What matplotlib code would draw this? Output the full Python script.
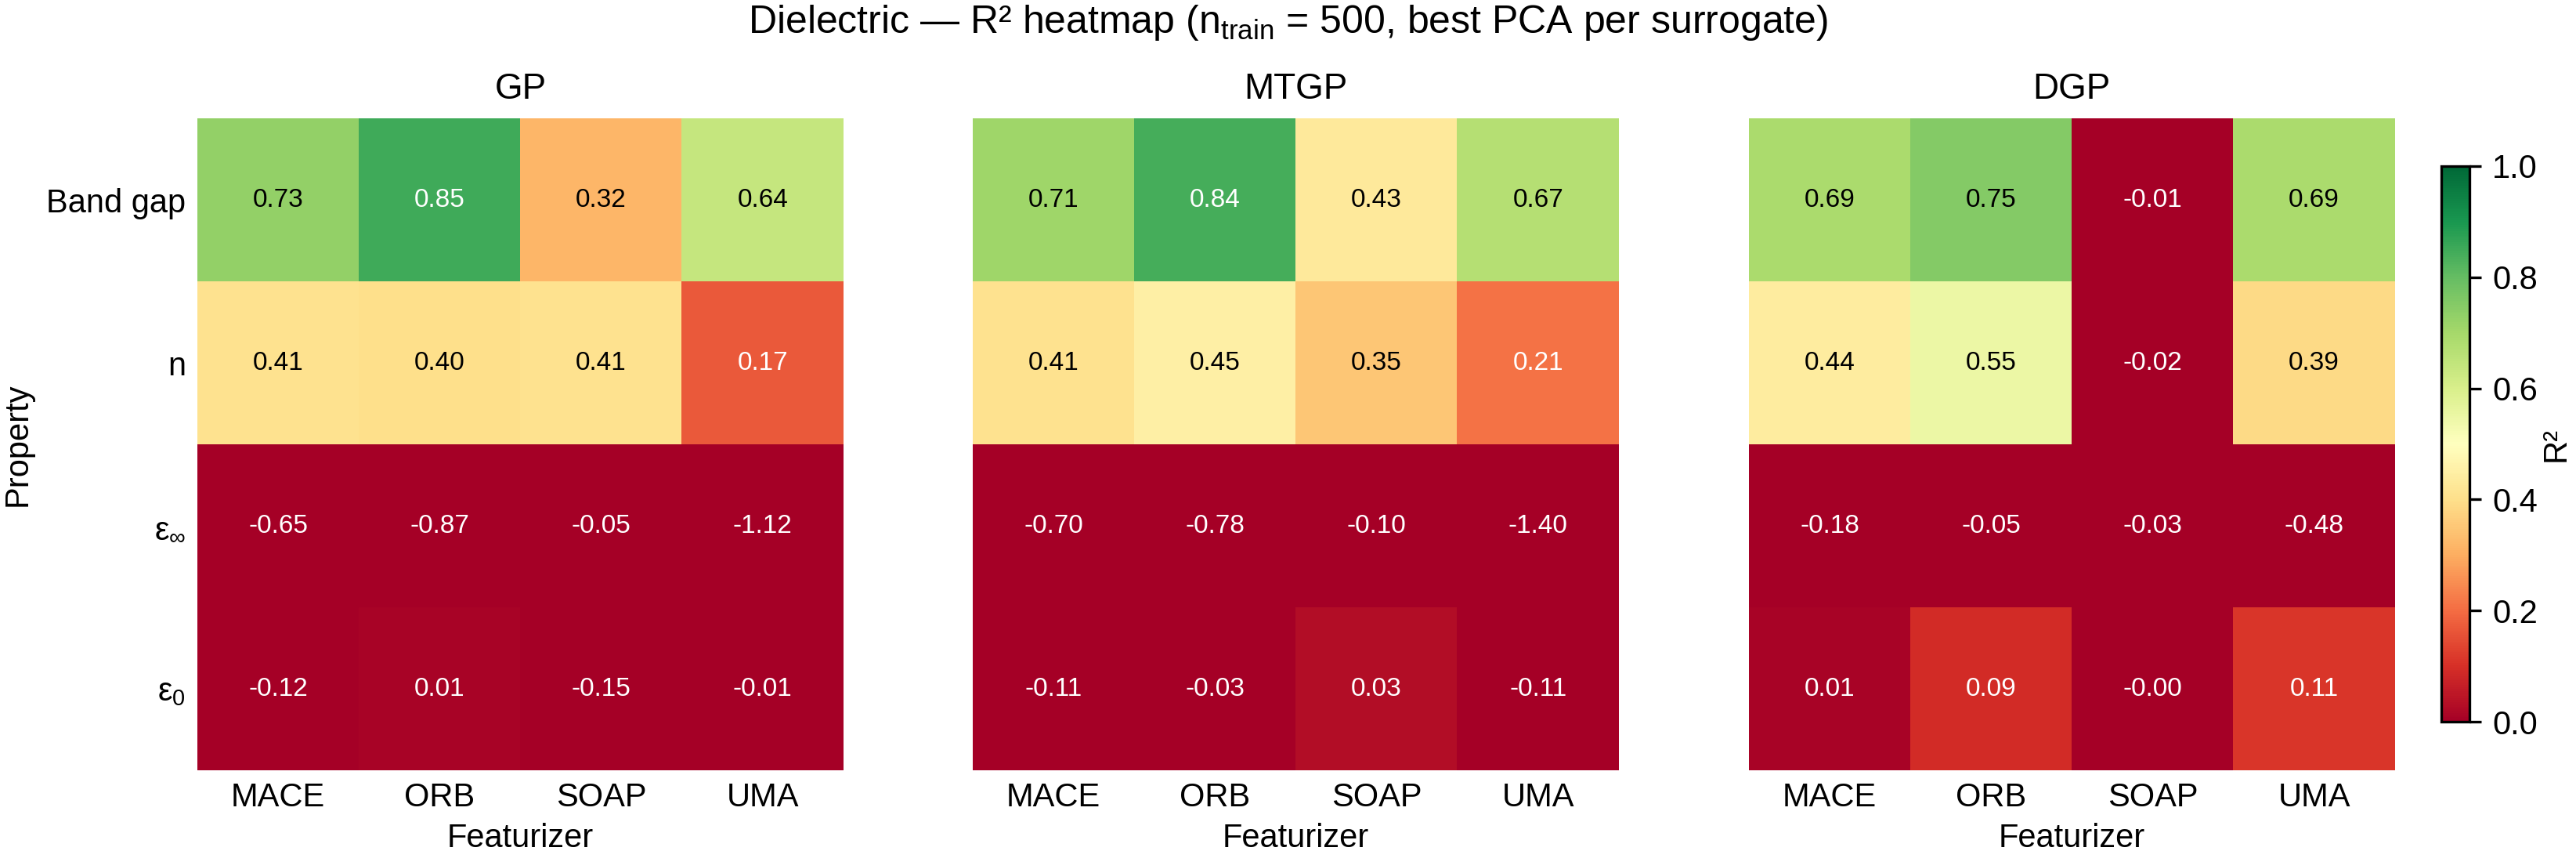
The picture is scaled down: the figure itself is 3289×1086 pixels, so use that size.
import matplotlib
matplotlib.use("Agg")
import matplotlib.pyplot as plt
import numpy as np

plt.rcParams['font.family'] = ['Liberation Sans', 'DejaVu Sans']
plt.rcParams['mathtext.fontset'] = 'custom'
plt.rcParams['mathtext.rm'] = 'Liberation Sans'
plt.rcParams['mathtext.it'] = 'Liberation Sans:italic'

# data
surrogates = ['GP', 'MTGP', 'DGP']
featurizers = ['MACE', 'ORB', 'SOAP', 'UMA']
properties = ['Band gap', 'n', r'$\mathregular{ε_{∞}}$', r'$\mathregular{ε_{0}}$']

r2_gp = [[0.73, 0.85, 0.32, 0.64],
         [0.41, 0.40, 0.41, 0.17],
         [-0.65, -0.87, -0.05, -1.12],
         [-0.12, 0.01, -0.15, -0.01]]
r2_mtgp = [[0.71, 0.84, 0.43, 0.67],
           [0.41, 0.45, 0.35, 0.21],
           [-0.70, -0.78, -0.10, -1.40],
           [-0.11, -0.03, 0.03, -0.11]]
r2_dgp = [[0.69, 0.75, -0.01, 0.69],
          [0.44, 0.55, -0.02, 0.39],
          [-0.18, -0.05, -0.03, -0.48],
          [0.01, 0.09, -0.0, 0.11]]

fig = plt.figure(figsize=(3289 / 300, 1086 / 300), dpi=300)

lefts = [0.0766, 0.3776, 0.6789]
bottom, width, height = 0.0948, 0.2508, 0.7661

im = None
for k, (name, data) in enumerate(zip(surrogates, [r2_gp, r2_mtgp, r2_dgp])):
    ax = fig.add_axes([lefts[k], bottom, width, height])
    arr = np.array(data)
    im = ax.imshow(arr, cmap='RdYlGn', vmin=0, vmax=1, aspect='auto',
                   interpolation='nearest')
    for i in range(arr.shape[0]):
        for j in range(arr.shape[1]):
            v = arr[i, j]
            col = 'white' if (v < 0.25 or v > 0.8) else 'black'
            ax.text(j, i, f"{v:.2f}", ha='center', va='center',
                    fontsize=8, color=col)
    ax.set_xticks(range(len(featurizers)))
    ax.set_xticklabels(featurizers, fontsize=10)
    ax.set_yticks(range(len(properties)))
    if k == 0:
        ax.set_yticklabels(properties, fontsize=10)
        ax.set_ylabel('Property', fontsize=10)
    else:
        ax.set_yticklabels([])
    ax.tick_params(length=0)
    for s in ax.spines.values():
        s.set_visible(False)
    ax.set_xlabel('Featurizer', fontsize=10, labelpad=3)
    ax.set_title(name, fontsize=11)

cax = fig.add_axes([0.9477, 0.1519, 0.0109, 0.6529])
cbar = fig.colorbar(im, cax=cax)
cbar.set_ticks([0.0, 0.2, 0.4, 0.6, 0.8, 1.0])
cbar.ax.tick_params(labelsize=10)
cbar.set_label('R²', fontsize=10, labelpad=1)

fig.text(0.5, 0.961, r'Dielectric — R² heatmap ($\mathregular{n_{train}}$ = 500, best PCA per surrogate)',
         ha='center', va='baseline', fontsize=12)

fig.savefig('out.png', dpi=300)
